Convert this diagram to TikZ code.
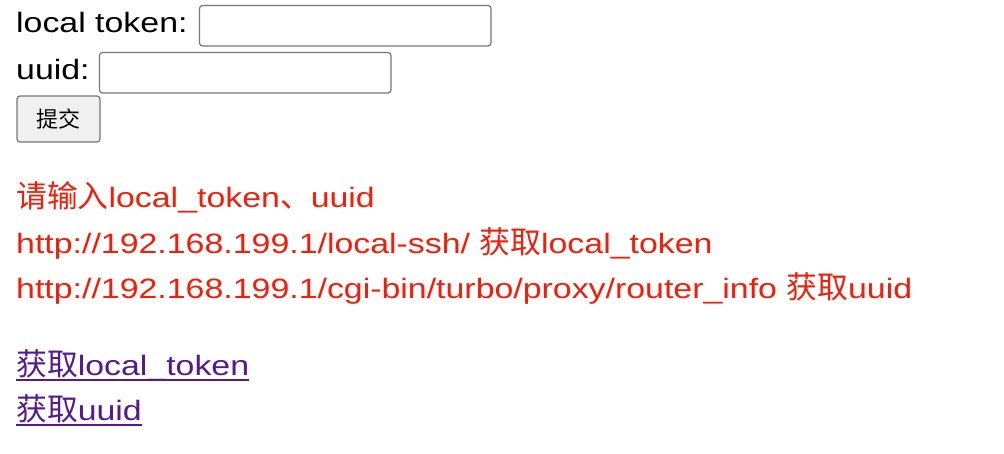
\documentclass[tikz,border=0pt]{standalone}
\usepackage{fontspec}
\setmainfont{Liberation Sans}[FakeStretch=1.21]
\newfontfamily\cjk{Noto Sans CJK SC}[Scale=1.1]
\definecolor{redt}{RGB}{240,30,10}
\definecolor{linkc}{RGB}{85,26,139}
\definecolor{bord}{RGB}{118,118,118}
\begin{document}
\begin{tikzpicture}[x=1pt,y=-1pt,
  txt/.style={anchor=base west,inner sep=0pt,font=\fontsize{28}{34}\selectfont},
  inbox/.style={draw=bord,line width=1.2pt,rounded corners=3pt},
  btn/.style={draw=bord,fill=black!6,line width=1.2pt,rounded corners=3pt}]
\useasboundingbox (0,0) rectangle (1004,454);
\node[txt] (l1) at (16,33) {local token:};
\draw[inbox] (199.5,5.5) rectangle (491,46) coordinate (b1);
\node[txt] (l2) at (16,80) {uuid:};
\draw[inbox] (99.5,52.5) rectangle (391,93) coordinate (b2);
\draw[btn] (17,96) rectangle (100,142) coordinate (bt);
\node[anchor=center,inner sep=0pt,font=\cjk\fontsize{20}{24}\selectfont] (btxt) at (58.5,119) {提交};
\node[txt,text=redt] (r1) at (16,208) {{\cjk 请输入}local\_token{\cjk 、}uuid};
\node[txt,text=redt] (r2) at (16,254) {http://192.168.199.1/local-ssh/ {\cjk 获取}local\_token};
\node[txt,text=redt] (r3) at (16,299) {http://192.168.199.1/cgi-bin/turbo/proxy/router\_info {\cjk 获取}uuid};
\node[txt,text=linkc] (k1) at (16,375) {{\cjk 获取}local\_token};
\node[txt,text=linkc] (k2) at (16,420) {{\cjk 获取}uuid};
\draw[linkc,line width=1.5pt] (k1.base west)++(0,5) -- (k1.base east|-0,380);
\draw[linkc,line width=1.5pt] (k2.base west)++(0,5) -- (k2.base east|-0,425);
\end{tikzpicture}
\end{document}
